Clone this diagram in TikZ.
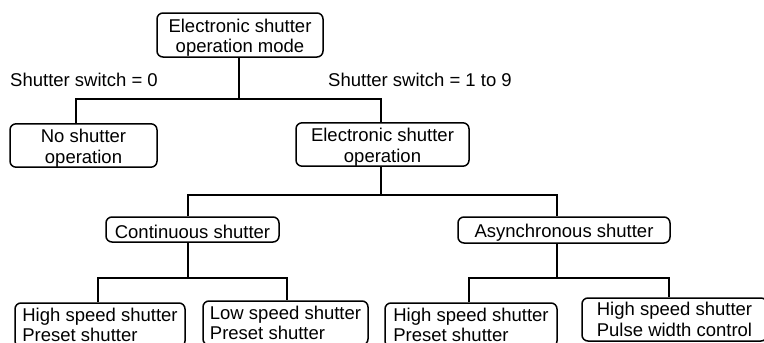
\documentclass[tikz,border=0pt]{standalone}
\usepackage{fontspec}
\setmainfont{Liberation Sans}
\newcommand{\firstlinestrut}{\rule{0pt}{19pt}}
\begin{document}
\begin{tikzpicture}[x=1pt,y=-1pt,
  box/.style={draw, line width=1.5pt, rounded corners=6pt, inner sep=0pt,
    font=\fontsize{18.5}{20.5}\selectfont, align=center},
  lbox/.style={box, align=left},
  lbl/.style={inner sep=0pt, anchor=west, font=\fontsize{18.5}{20.5}\selectfont},
  conn/.style={line width=1.5pt}]
\useasboundingbox (0,0) rectangle (764,343);
\clip (0,0) rectangle (764,343);
% nodes
\node[box, minimum width=166pt, minimum height=44pt] (top) at (240,35) {\firstlinestrut Electronic shutter\\operation mode};
\node[lbl] (l0) at (10,80) {Shutter switch = 0};
\node[lbl] (l1) at (328,80) {Shutter switch = 1 to 9};
\node[box, minimum width=147pt, minimum height=43pt] (noshut) at (83.5,145.5) {\firstlinestrut No shutter\\operation};
\node[box, minimum width=173pt, minimum height=41pt] (eso) at (382.5,144.5) {\firstlinestrut Electronic shutter\\operation};
\node[box, minimum width=173pt, minimum height=25pt] (cont) at (192.5,229.5) {\firstlinestrut Continuous shutter};
\node[box, minimum width=212pt, minimum height=26pt] (async) at (564,230) {\firstlinestrut Asynchronous shutter};
\node[lbox, minimum width=170pt, minimum height=44pt] (b1) at (100,325) {High speed shutter\\Preset shutter};
\node[lbox, minimum width=165pt, minimum height=44pt] (b2) at (285.5,323) {Low speed shutter\\Preset shutter};
\node[lbox, minimum width=172pt, minimum height=44pt] (b3) at (471,325) {High speed shutter\\Preset shutter};
\node[lbox, minimum width=185pt, minimum height=43pt] (b4) at (674.5,319.5) {High speed shutter\\Pulse width control};
% connectors
\coordinate (j1) at (239,99);
\coordinate (j2) at (381,195);
\coordinate (j3) at (188,278);
\coordinate (j4) at (557,278);
\draw[conn] ([xshift=-1pt]top.south) -- ([xshift=-1pt]top.south |- j1);
\draw[conn] ([xshift=-7.5pt]noshut.north) |- ([xshift=-1.5pt]eso.north |- j1) -- ([xshift=-1.5pt]eso.north);
\draw[conn] ([xshift=-1.5pt]eso.south) -- ([xshift=-1.5pt]eso.south |- j2);
\draw[conn] ([xshift=-4.5pt]cont.north) |- ([xshift=-7pt]async.north |- j2) -- ([xshift=-7pt]async.north);
\draw[conn] ([xshift=-4.5pt]cont.south) -- ([xshift=-4.5pt]cont.south |- j3);
\draw[conn] ([xshift=-2pt]b1.north) |- ([xshift=1.5pt]b2.north |- j3) -- ([xshift=1.5pt]b2.north);
\draw[conn] ([xshift=-7pt]async.south) -- ([xshift=-7pt]async.south |- j4);
\draw[conn] ([xshift=-2pt]b3.north) |- ([xshift=-5.5pt]b4.north |- j4) -- ([xshift=-5.5pt]b4.north);
\end{tikzpicture}
\end{document}
